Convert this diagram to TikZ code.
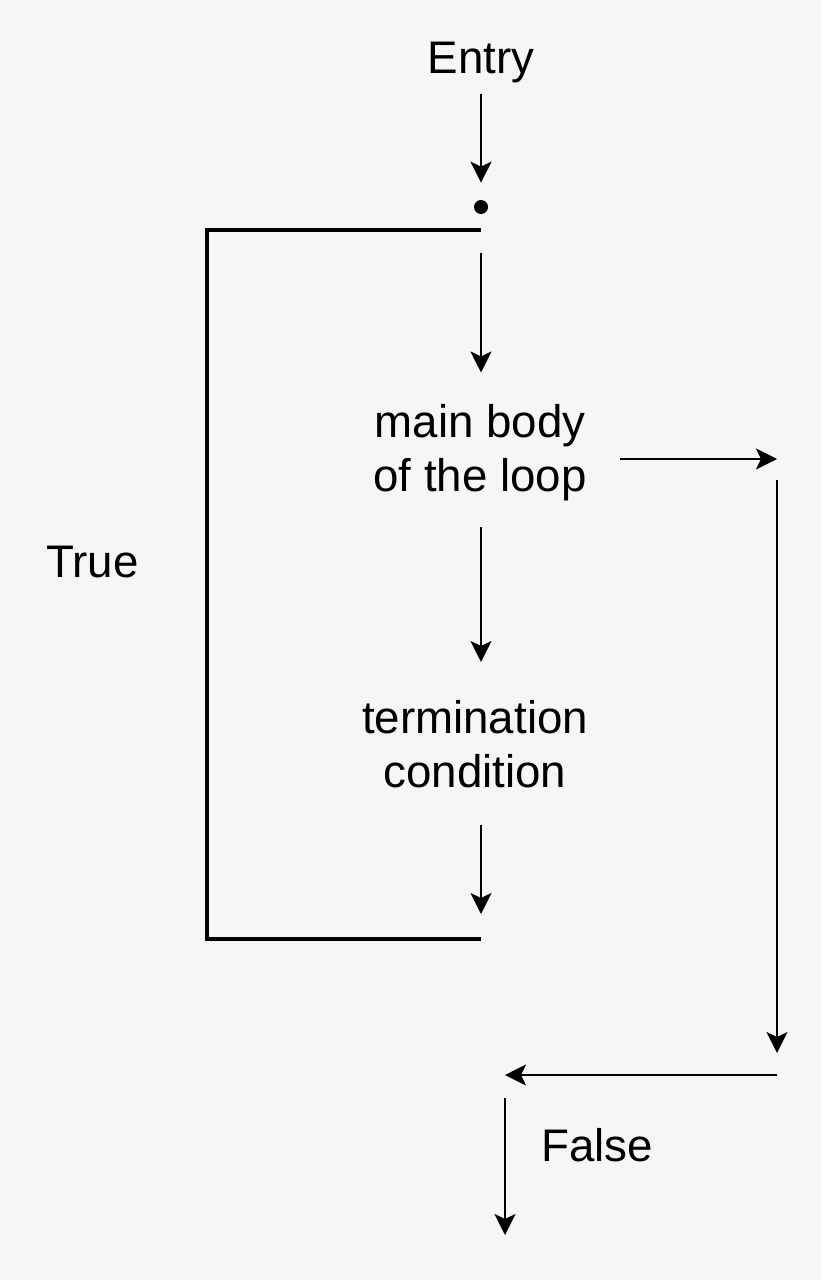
\documentclass[tikz,border=0pt]{standalone}
\usepackage{fontspec}
\setmainfont{Liberation Sans}
\usetikzlibrary{arrows.meta, positioning, calc}
\definecolor{bggray}{HTML}{F6F6F6}

\begin{document}
\begin{tikzpicture}[
        x=0.02cm, y=-0.02cm,
        txt/.style={font=\fontsize{26}{30.6}\selectfont, align=center, inner sep=0pt},
        flow/.style={draw, line width=1.2pt, -{Stealth[length=0.42cm, width=0.42cm, inset=0.1cm]}},
        loopline/.style={draw, line width=2.6pt, line join=miter}
    ]
        % background and page size
        \fill[bggray] (0,0) rectangle (822,1280);

        % Entry and branch point
        \node[txt, anchor=base] (entry) at (481,74) {Entry};
        \node[circle, fill, inner sep=0pt, minimum size=0.28cm] (dot) at (481,207) {};
        \draw[flow, shorten <=0.2cm, shorten >=0.34cm] (entry) -- (dot);

        % loop body
        \coordinate (looptop) at (481,230);
        \coordinate (loopbot) at (481,939);
        \node[txt] (body) at (480,453) {main body\\of the loop};
        \node[txt] (term) at (475,744) {termination\\condition};

        \draw[flow, shorten <=0.46cm, shorten >=0.64cm] (looptop) -- (body.north -| looptop);
        \draw[flow, shorten <=0.5cm, shorten >=0.76cm] (body.south -| looptop) -- (term.north -| looptop);
        \draw[flow, shorten <=0.74cm, shorten >=0.5cm] (term.south -| loopbot) -- (loopbot);

        % True branch
        \draw[loopline] (looptop) -- ++(-274,0) |- (loopbot);
        \node[txt, anchor=base west] (true) at (46,577) {True};

        % False branch
        \coordinate (ne) at (777,459);
        \coordinate (se) at (777,1075);
        \coordinate (sw) at (505,1075);
        \coordinate (exit) at (505,1235);
        \draw[flow, shorten <=0.66cm] (body.east |- ne) -- (ne);
        \draw[flow, shorten <=0.42cm, shorten >=0.44cm] (ne) -- (se);
        \draw[flow] (se) -- (sw);
        \draw[flow, shorten <=0.46cm] (sw) -- (exit);
        \node[txt, anchor=base west] (false) at (541,1161) {False};
\end{tikzpicture}
\end{document}
